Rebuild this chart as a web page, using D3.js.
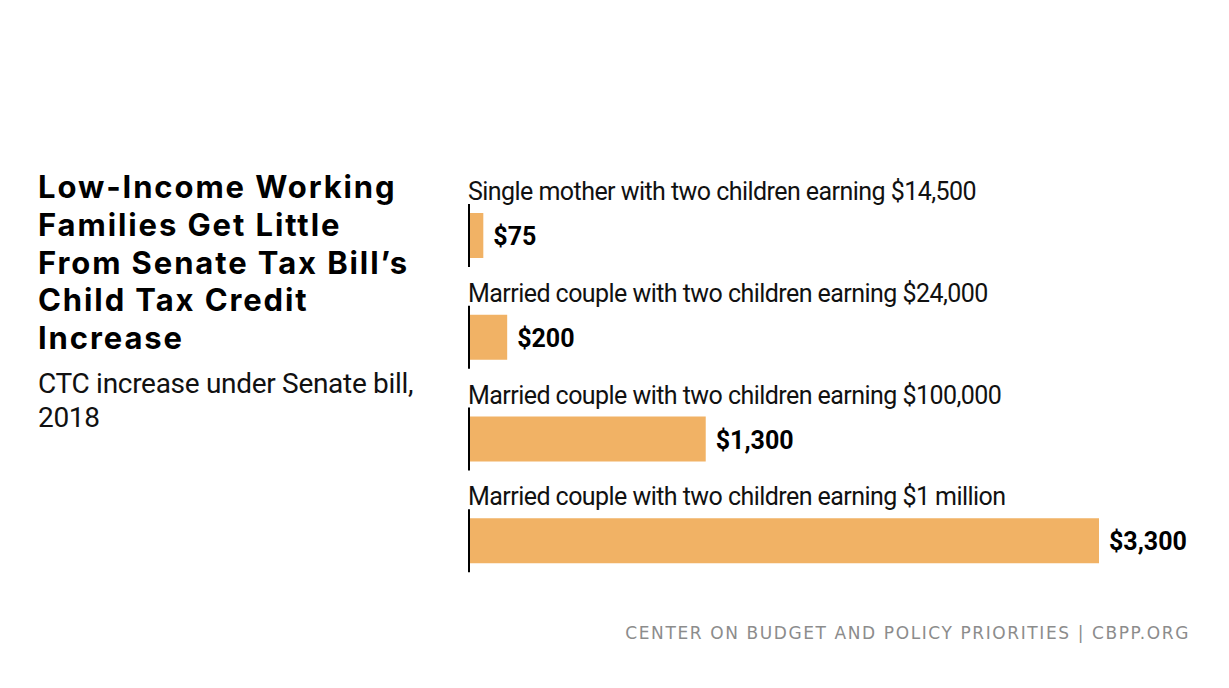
<!DOCTYPE html>
<html>
<head>
<meta charset="utf-8">
<script src="https://cdn.jsdelivr.net/npm/d3@7"></script>
<style>
  body { margin: 0; background: #fff; }
  svg { display: block; }
</style>
</head>
<body>
<div id="chartArea"></div>
<script>
const categories = [
  "Single mother with two children earning $14,500",
  "Married couple with two children earning $24,000",
  "Married couple with two children earning $100,000",
  "Married couple with two children earning $1 million"
];
const values = [75, 200, 1240, 3300];
const valueLabels = ["$75", "$200", "$1,300", "$3,300"];
const titleLines = ["Low-Income Working", "Families Get Little", "From Senate Tax Bill\u2019s", "Child Tax Credit", "Increase"];
const subtitleLines = ["CTC increase under Senate bill,", "2018"];
const footer = "CENTER ON BUDGET AND POLICY PRIORITIES | CBPP.ORG";

const width = 1229, height = 688;
const narrow = "Roboto, sans-serif";

const svg = d3.select("#chartArea").append("svg")
  .attr("width", width)
  .attr("height", height);

// title block
svg.append("text")
  .attr("x", 38).attr("y", 198)
  .style("font-family", "Inter, sans-serif")
  .style("font-weight", 700)
  .style("font-size", "31px")
  .style("letter-spacing", "1.9px")
  .style("fill", "#000")
  .selectAll("tspan").data(titleLines).join("tspan")
  .attr("x", 38)
  .attr("dy", (d, i) => i === 0 ? 0 : 37.8)
  .text(d => d);

svg.append("text")
  .attr("x", 38).attr("y", 393)
  .style("font-family", narrow)
  .style("font-size", "28px")
  .style("letter-spacing", "-0.3px")
  .style("fill", "#111")
  .selectAll("tspan").data(subtitleLines).join("tspan")
  .attr("x", 38)
  .attr("dy", (d, i) => i === 0 ? 0 : 34)
  .text(d => d);

// scales
const x = d3.scaleLinear().domain([0, 3300]).range([469, 1099]);
const y = d3.scaleBand().domain(categories).range([172, 579]);

const rows = svg.selectAll("g.row")
  .data(categories.map((c, i) => ({ c, v: values[i], l: valueLabels[i] })))
  .join("g")
  .attr("class", "row")
  .attr("transform", d => `translate(0,${y(d.c)})`);

rows.append("text")
  .attr("x", 468).attr("y", 28)
  .style("font-family", narrow)
  .style("font-size", "25px")
  .style("letter-spacing", "-0.55px")
  .style("fill", "#111")
  .text(d => d.c);

rows.append("rect")
  .attr("x", x(0))
  .attr("y", 41)
  .attr("width", d => x(d.v) - x(0))
  .attr("height", 45)
  .style("fill", "#F1B265");

rows.append("line")
  .attr("x1", x(0)).attr("x2", x(0))
  .attr("y1", 32).attr("y2", 95)
  .style("stroke", "#000")
  .style("stroke-width", 2);

rows.append("text")
  .attr("x", d => x(d.v) + 10)
  .attr("y", 73)
  .style("font-family", narrow)
  .style("font-weight", 700)
  .style("font-size", "25px")
  .style("fill", "#000")
  .text(d => d.l);

svg.append("text")
  .attr("x", 1190).attr("y", 639)
  .attr("text-anchor", "end")
  .style("font-family", "'DejaVu Sans', sans-serif")
  .style("font-size", "17px")
  .style("letter-spacing", "1.6px")
  .style("fill", "#8c8c8c")
  .text(footer);
</script>
</body>
</html>
